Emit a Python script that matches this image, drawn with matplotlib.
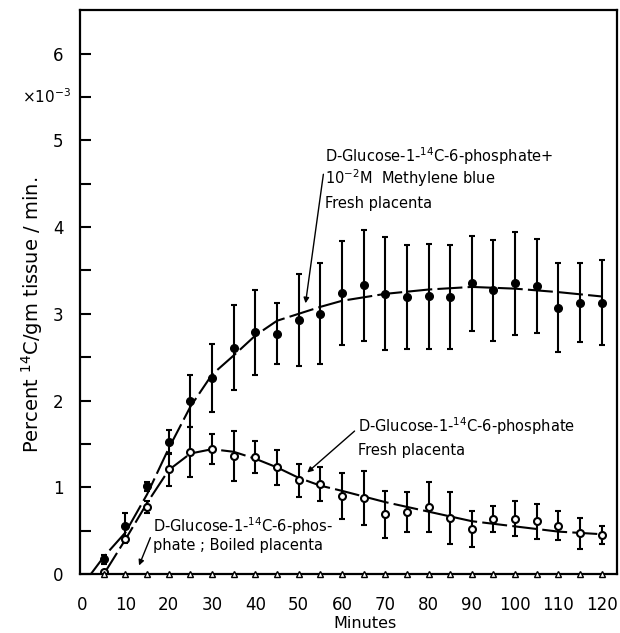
import matplotlib
matplotlib.use("Agg")
import matplotlib.pyplot as plt
import numpy as np

plt.rcParams['font.family'] = ['DejaVu Sans']

# ---- data ----
minutes = [5, 10, 15, 20, 25, 30, 35, 40, 45, 50, 55, 60, 65, 70, 75, 80,
           85, 90, 95, 100, 105, 110, 115, 120]
mb_fresh = [0.17, 0.56, 1.01, 1.52, 2.00, 2.26, 2.61, 2.79, 2.77, 2.93, 3.00, 3.24,
            3.33, 3.23, 3.19, 3.20, 3.19, 3.35, 3.27, 3.35, 3.32, 3.07, 3.13, 3.13]
mb_fresh_err = [0.05, 0.15, 0.05, 0.14, 0.30, 0.39, 0.49, 0.49, 0.35, 0.53, 0.58, 0.60,
                0.64, 0.65, 0.60, 0.60, 0.60, 0.55, 0.58, 0.59, 0.54, 0.51, 0.45, 0.49]
fresh = [0.03, 0.40, 0.77, 1.21, 1.41, 1.44, 1.36, 1.35, 1.23, 1.08, 1.04, 0.90,
         0.88, 0.69, 0.72, 0.77, 0.65, 0.52, 0.64, 0.64, 0.61, 0.56, 0.47, 0.45]
fresh_err = [0.00, 0.04, 0.07, 0.19, 0.29, 0.17, 0.29, 0.19, 0.20, 0.19, 0.20, 0.27,
             0.31, 0.27, 0.23, 0.29, 0.30, 0.21, 0.15, 0.20, 0.20, 0.17, 0.18, 0.10]
boiled = [0.0] * 24

# fitted curves
curve1_x = [2, 5, 10, 15, 20, 25, 30, 35, 40, 45, 50, 55, 60, 70, 80, 90, 100, 110, 120]
curve1_y = [0, 0.20, 0.48, 0.92, 1.45, 1.93, 2.30, 2.52, 2.75, 2.92, 3.00, 3.08, 3.15,
            3.23, 3.28, 3.31, 3.29, 3.25, 3.20]
curve2_x = [5, 10, 15, 20, 25, 30, 35, 40, 45, 50, 55, 60, 70, 80, 90, 100, 110, 120]
curve2_y = [0, 0.40, 0.82, 1.20, 1.39, 1.44, 1.41, 1.33, 1.23, 1.11, 1.02, 0.96,
            0.83, 0.72, 0.61, 0.55, 0.49, 0.46]

xticks = list(range(0, 121, 10))
yticks = [0, 1, 2, 3, 4, 5, 6]

# ---- figure ----
fig = plt.figure(figsize=(6.2, 6.33), dpi=100)
ax = fig.add_axes([0.129, 0.093, 0.866, 0.891])

ax.plot(curve1_x, curve1_y, color='black', lw=1.5, dashes=(12, 2.5))
ax.plot(curve2_x, curve2_y, color='black', lw=1.5, dashes=(12, 2.5))

ax.errorbar(minutes, mb_fresh, yerr=mb_fresh_err, fmt='o', color='black', ms=5.5,
            elinewidth=1.5, capsize=2, capthick=1.5)
ax.errorbar(minutes, fresh, yerr=fresh_err, fmt='o', color='black', mfc='white',
            mec='black', mew=1.5, ms=5, elinewidth=1.5, capsize=2, capthick=1.5)
ax.plot(minutes, boiled, linestyle='none', marker='^', ms=4, mfc='white', mec='black',
        mew=1.0, clip_on=False, zorder=5)

ax.set_xlim(-0.5, 123.5)
ax.set_ylim(0, 6.5)
ax.set_xticks(xticks)
ax.set_yticks(yticks)
ax.set_yticks(np.arange(0.5, 6.5, 1.0), minor=True)
ax.tick_params(axis='x', length=0, labelsize=12, pad=16)
ax.tick_params(axis='y', which='both', direction='in', length=8, width=1.5,
               labelsize=12, pad=12)
for s in ax.spines.values():
    s.set_linewidth(1.6)

ax.set_xlabel('Minutes', fontsize=11.5, va='center')
ax.xaxis.set_label_coords(0.53, -0.088)
ax.set_ylabel('Percent $^{14}$C/gm tissue / min.', fontsize=14, labelpad=2)
ax.yaxis.set_label_coords(-0.065, 0.46)
ax.text(-14, 5.5, '×10$^{-3}$', fontsize=11, ha='left', va='center', clip_on=False)

fs = 10.5
ax.text(56, 4.75, 'D-Glucose-1-$^{14}$C-6-phosphate+', fontsize=fs, ha='left', va='baseline')
ax.text(56, 4.50, '10$^{-2}$M  Methylene blue', fontsize=fs, ha='left', va='baseline')
ax.text(56, 4.22, 'Fresh placenta', fontsize=fs, ha='left', va='baseline')
ax.annotate('', xy=(51.5, 3.09), xytext=(55.8, 4.64),
            arrowprops=dict(arrowstyle='-|>', color='black', lw=1.0, mutation_scale=8))

ax.text(63.6, 1.64, 'D-Glucose-1-$^{14}$C-6-phosphate', fontsize=fs, ha='left', va='baseline')
ax.text(63.6, 1.37, 'Fresh placenta', fontsize=fs, ha='left', va='baseline')
ax.annotate('', xy=(51.5, 1.15), xytext=(63.4, 1.67),
            arrowprops=dict(arrowstyle='-|>', color='black', lw=1.0, mutation_scale=8))

ax.text(16.3, 0.49, 'D-Glucose-1-$^{14}$C-6-phos-', fontsize=fs, ha='left', va='baseline')
ax.text(16.3, 0.28, 'phate ; Boiled placenta', fontsize=fs, ha='left', va='baseline')
ax.annotate('', xy=(12.9, 0.07), xytext=(16.0, 0.45),
            arrowprops=dict(arrowstyle='-|>', color='black', lw=1.0, mutation_scale=8))

fig.savefig('out.png', dpi=100)
